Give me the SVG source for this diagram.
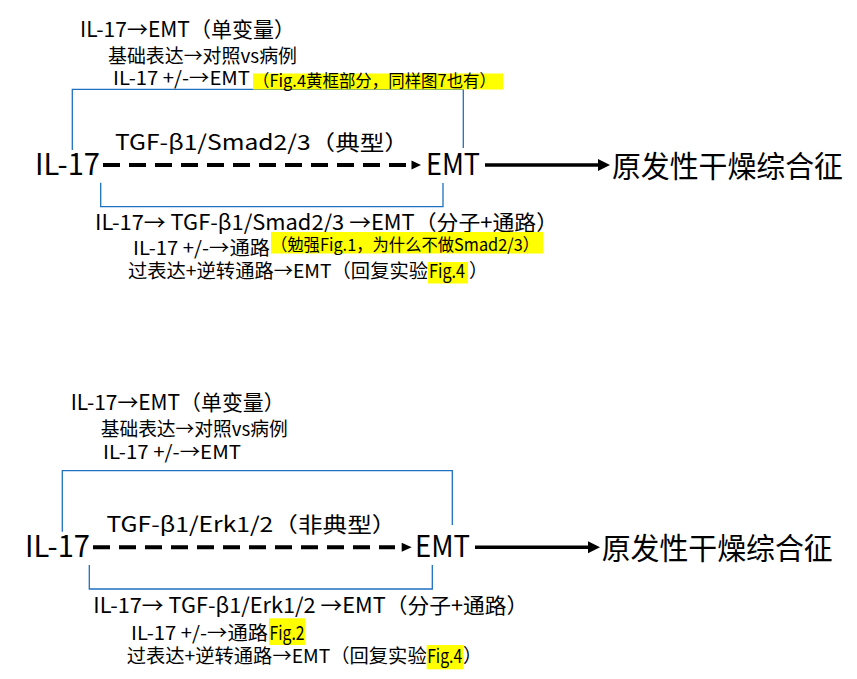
<svg xmlns="http://www.w3.org/2000/svg" width="857" height="679" viewBox="0 0 857 679">
<style>
text{font-family:"Noto Sans CJK SC","Noto Sans",sans-serif;fill:#000}
.big{font-size:30px}
.h1{font-size:21px}
.h2{font-size:19px}
.hl{font-size:17px}
.mark{fill:#FFFF00}
.br{fill:none;stroke:#1F70C1;stroke-width:1.3}
.dash{stroke:#000;stroke-width:4;stroke-dasharray:17 9;fill:none}
.solid{stroke:#000;stroke-width:3.5;fill:none}
.head{fill:#000}
</style>
<rect width="857" height="679" fill="#fff"/>
<g id="connectors">
<path class="br" d="M72.3 150 V89.3 H463.3 V148"/>
<path class="br" d="M100.7 182.7 V206.7 H443 V183"/>
<line class="dash" x1="103" y1="165" x2="406" y2="165"/>
<polygon class="head" points="411.5,160.5 421,165 411.5,169.5"/>
<line class="solid" x1="485" y1="165" x2="600" y2="165"/>
<polygon class="head" points="598,159 610,165 598,171"/>
<path class="br" d="M62.3 531.7 V470.7 H452.3 V525"/>
<path class="br" d="M89.3 565 V589 H432.3 V565"/>
<line class="dash" x1="93" y1="547.3" x2="395" y2="547.3"/>
<polygon class="head" points="401.7,542.8 411.7,547.3 401.7,551.8"/>
<line class="solid" x1="475" y1="547.3" x2="590" y2="547.3"/>
<polygon class="head" points="588,541.3 600,547.3 588,553.3"/>
</g>
<g id="top-labels">
<text class="h1" x="80" y="37" textLength="215" lengthAdjust="spacingAndGlyphs">IL-17→EMT（单变量）</text>
<text class="h2" x="108" y="62.5" textLength="189" lengthAdjust="spacingAndGlyphs">基础表达→对照vs病例</text>
<text class="h2" x="113" y="85" textLength="137" lengthAdjust="spacingAndGlyphs">IL-17 +/-→EMT</text>
<rect class="mark" x="253" y="73.5" width="250" height="16"/>
<text class="hl" x="253" y="86.5" textLength="243" lengthAdjust="spacingAndGlyphs">（Fig.4黄框部分，同样图7也有）</text>
</g>
<g id="node-il17-a"><text class="big" x="35" y="175" textLength="65" lengthAdjust="spacingAndGlyphs">IL-17</text></g>
<g id="label-tgf-smad"><text class="h1" x="115" y="149.5" textLength="294" lengthAdjust="spacingAndGlyphs">TGF-β1/Smad2/3（典型）</text></g>
<g id="node-emt-a"><text class="big" x="426" y="175" textLength="54" lengthAdjust="spacingAndGlyphs">EMT</text></g>
<g id="node-pss-a"><text class="big" x="612" y="177" textLength="231" lengthAdjust="spacingAndGlyphs">原发性干燥综合征</text></g>
<g id="mid-labels">
<text class="h1" x="95" y="229.5" textLength="463" lengthAdjust="spacingAndGlyphs">IL-17→ TGF-β1/Smad2/3 →EMT（分子+通路）</text>
<text class="h2" x="133" y="254.5" textLength="137" lengthAdjust="spacingAndGlyphs">IL-17 +/-→通路</text>
<rect class="mark" x="271" y="232" width="272" height="21.5"/>
<text class="hl" x="271" y="250.5" textLength="268" lengthAdjust="spacingAndGlyphs">（勉强Fig.1，为什么不做Smad2/3）</text>
<text class="h2" x="128" y="278" textLength="300" lengthAdjust="spacingAndGlyphs">过表达+逆转通路→EMT（回复实验</text>
<rect class="mark" x="428" y="262" width="40" height="21.5"/>
<text class="h2" x="429" y="278" textLength="36" lengthAdjust="spacingAndGlyphs">Fig.4</text>
<text class="h2" x="469" y="278">）</text>
</g>
<g id="bottom-labels">
<text class="h1" x="70.7" y="410" textLength="214" lengthAdjust="spacingAndGlyphs">IL-17→EMT（单变量）</text>
<text class="h2" x="100.7" y="436" textLength="187" lengthAdjust="spacingAndGlyphs">基础表达→对照vs病例</text>
<text class="h2" x="103" y="458.5" textLength="138" lengthAdjust="spacingAndGlyphs">IL-17 +/-→EMT</text>
</g>
<g id="node-il17-b"><text class="big" x="25" y="556.7" textLength="65" lengthAdjust="spacingAndGlyphs">IL-17</text></g>
<g id="label-tgf-erk"><text class="h1" x="106.5" y="531.7" textLength="290" lengthAdjust="spacingAndGlyphs">TGF-β1/Erk1/2（非典型）</text></g>
<g id="node-emt-b"><text class="big" x="415" y="556.7" textLength="55" lengthAdjust="spacingAndGlyphs">EMT</text></g>
<g id="node-pss-b"><text class="big" x="601.7" y="558.7" textLength="231" lengthAdjust="spacingAndGlyphs">原发性干燥综合征</text></g>
<g id="bottom-mid-labels">
<text class="h1" x="93.3" y="613" textLength="435" lengthAdjust="spacingAndGlyphs">IL-17→ TGF-β1/Erk1/2 →EMT（分子+通路）</text>
<text class="h2" x="131" y="640" textLength="137" lengthAdjust="spacingAndGlyphs">IL-17 +/-→通路</text>
<rect class="mark" x="269" y="618.3" width="36" height="26.7"/>
<text class="h2" x="269.5" y="640" textLength="35" lengthAdjust="spacingAndGlyphs">Fig.2</text>
<text class="h2" x="126.7" y="663" textLength="300" lengthAdjust="spacingAndGlyphs">过表达+逆转通路→EMT（回复实验</text>
<rect class="mark" x="426.7" y="645" width="36.6" height="24.3"/>
<text class="h2" x="427.2" y="663" textLength="35" lengthAdjust="spacingAndGlyphs">Fig.4</text>
<text class="h2" x="463" y="663">）</text>
</g>
</svg>
